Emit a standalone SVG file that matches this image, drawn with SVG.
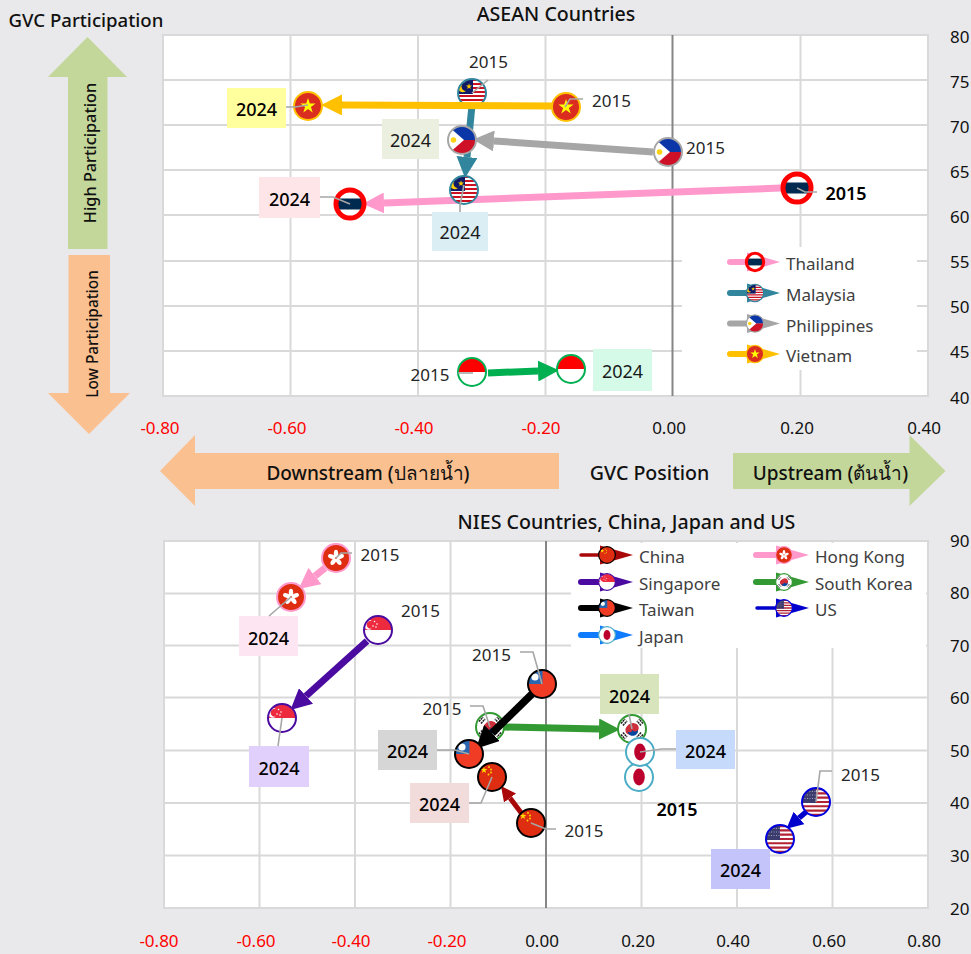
<svg xmlns="http://www.w3.org/2000/svg" width="971" height="954" viewBox="0 0 971 954">
<style>
text{font-family:"Noto Sans","Open Sans","Liberation Sans",sans-serif;font-size:17px;fill:#262626}
.t{fill:#111}
.m{text-anchor:middle}
.red{fill:#f00}
.lg{fill:#404040}
.b2{font-size:18px;font-weight:600;fill:#000}
.l4{font-size:18px;fill:#1a1a1a;text-anchor:middle}
.d4{font-size:18px;font-weight:500;fill:#000;text-anchor:middle}
.sem{font-size:19.600px;font-weight:500;fill:#111;text-anchor:middle}
.dir{font-size:19px;font-weight:500;fill:#111;text-anchor:middle}
.grid{stroke:#d9d9d9;stroke-width:2;fill:none}
.axis{stroke:#868686;stroke-width:2}
.plot{fill:#fff;stroke:#d9d9d9;stroke-width:2}
.leader{stroke:#a6a6a6;stroke-width:1.6;fill:none}
.conn{fill:none;stroke-linecap:butt}
.rl{stroke-linecap:round;fill:none}
.ring{fill:none;stroke-width:2}
</style>
<defs>
<clipPath id="c"><circle r="14"/></clipPath>
<polygon id="star" points="0,-8 1.8,-2.5 7.6,-2.5 2.9,.95 4.7,6.5 0,3.1 -4.7,6.5 -2.9,.95 -7.6,-2.5 -1.8,-2.5"/>
<marker id="a-pink" markerUnits="strokeWidth" markerWidth="3" markerHeight="3" refX="0" refY="1.5" orient="auto"><path d="M0 0L3 1.5L0 3z" fill="#ff99cc"/></marker>
<marker id="a-teal" markerUnits="strokeWidth" markerWidth="3" markerHeight="3" refX="0" refY="1.5" orient="auto"><path d="M0 0L3 1.5L0 3z" fill="#31859c"/></marker>
<marker id="a-gray" markerUnits="strokeWidth" markerWidth="3" markerHeight="3" refX="0" refY="1.5" orient="auto"><path d="M0 0L3 1.5L0 3z" fill="#a6a6a6"/></marker>
<marker id="a-amber" markerUnits="strokeWidth" markerWidth="3" markerHeight="3" refX="0" refY="1.5" orient="auto"><path d="M0 0L3 1.5L0 3z" fill="#ffc000"/></marker>
<marker id="a-green" markerUnits="strokeWidth" markerWidth="3" markerHeight="3" refX="0" refY="1.5" orient="auto"><path d="M0 0L3 1.5L0 3z" fill="#00b050"/></marker>
<marker id="a-purple" markerUnits="strokeWidth" markerWidth="3" markerHeight="3" refX="0" refY="1.5" orient="auto"><path d="M0 0L3 1.5L0 3z" fill="#4b0aa0"/></marker>
<marker id="a-black" markerUnits="strokeWidth" markerWidth="3" markerHeight="3" refX="0" refY="1.5" orient="auto"><path d="M0 0L3 1.5L0 3z" fill="#000"/></marker>
<marker id="a-kr" markerUnits="strokeWidth" markerWidth="3" markerHeight="3" refX="0" refY="1.5" orient="auto"><path d="M0 0L3 1.5L0 3z" fill="#339933"/></marker>
<marker id="a-cn" markerUnits="strokeWidth" markerWidth="3" markerHeight="3" refX="0" refY="1.5" orient="auto"><path d="M0 0L3 1.5L0 3z" fill="#a90808"/></marker>
<marker id="a-us" markerUnits="strokeWidth" markerWidth="3" markerHeight="3" refX="0" refY="1.5" orient="auto"><path d="M0 0L3 1.5L0 3z" fill="#0000cc"/></marker>

<g id="f-th"><g clip-path="url(#c)"><circle r="14" fill="#fff"/><rect x="-14" y="-5.5" width="28" height="11" fill="#002a4f"/></g><circle r="14" fill="none" stroke="#f00" stroke-width="5"/></g>
<g id="f-my"><g clip-path="url(#c)"><circle r="14" fill="#fff"/><line x1="0" y1="-14" x2="0" y2="14" stroke="#cc1122" stroke-width="28" stroke-dasharray="2 2"/><rect x="-14" y="-14" width="15" height="15" fill="#101a66"/><path d="M-6 -11a5.5 5.5 0 1 0 0 9a4.5 4.5 0 1 1 0-9z" fill="#fc0"/><use href="#star" transform="translate(-3,-6.500) scale(.4)" fill="#fc0"/></g><circle r="14" class="ring" stroke="#31859c"/></g>
<g id="f-ph"><g clip-path="url(#c)"><rect x="-14" y="-14" width="28" height="14" fill="#0b36a8"/><rect x="-14" y="0" width="28" height="14" fill="#ce1126"/><path d="M-14 -14L2 0L-14 14z" fill="#fff"/><circle cx="-8.500" r="2.800" fill="#fcd116"/></g><circle r="14" class="ring" stroke="#a6a6a6"/></g>
<g id="f-vn"><circle r="14" fill="#da2d20"/><use href="#star" fill="#ff0"/><circle r="14" class="ring" stroke="#ffc000"/></g>
<g id="f-id"><circle r="14" fill="#fff"/><path d="M-13.500 0a13.500 13.500 0 0 1 27 0z" fill="#f00"/><circle r="14" class="ring" stroke="#00b050"/></g>
<g id="f-cn"><circle r="14" fill="#de2d10"/><use href="#star" transform="translate(-8,-7) scale(.45)" fill="#fd0"/><g fill="#fd0"><circle cx="-3" cy="-10" r=".9"/><circle cx="-1" cy="-7.500" r=".9"/><circle cx="-1" cy="-4.500" r=".9"/><circle cx="-3.500" cy="-2.500" r=".9"/></g><circle r="14" class="ring" stroke="#000" stroke-width="2.400"/></g>
<g id="f-hk"><circle r="14" fill="#de2d10"/><g fill="#fff"><ellipse cy="-4.500" rx="2.200" ry="3.800"/><ellipse cy="-4.500" rx="2.200" ry="3.800" transform="rotate(72)"/><ellipse cy="-4.500" rx="2.200" ry="3.800" transform="rotate(144)"/><ellipse cy="-4.500" rx="2.200" ry="3.800" transform="rotate(216)"/><ellipse cy="-4.500" rx="2.200" ry="3.800" transform="rotate(288)"/></g><circle r="14" class="ring" stroke="#ff99cc"/></g>
<g id="f-sg"><circle r="14" fill="#fff"/><path d="M-13.500 0a13.500 13.500 0 0 1 27 0z" fill="#ee2a3f"/><path d="M-6 -9a5 5 0 1 0 0 7.500a4 4 0 1 1 0-7.500z" fill="#fff"/><g fill="#fff"><circle cx="-3.500" cy="-8.500" r=".8"/><circle cx="-1" cy="-6" r=".8"/><circle cx="-2" cy="-3" r=".8"/><circle cx="-5" cy="-4" r=".8"/></g><circle r="14" class="ring" stroke="#4b0aa0"/></g>
<g id="f-tw"><g clip-path="url(#c)"><rect x="-14" y="-14" width="28" height="28" fill="#f03c24"/><rect x="-14" y="-14" width="14.500" height="14" fill="#2b66b0"/><circle cx="-7" cy="-7" r="3.600" fill="#fff"/></g><circle r="14" class="ring" stroke="#000" stroke-width="2.400"/></g>
<g id="f-jp"><circle r="14" fill="#fff"/><ellipse rx="5.800" ry="8.500" fill="#bc002d"/><circle r="14" class="ring" stroke="#4bacc6"/></g>
<g id="f-kr"><circle r="14" fill="#fff"/><g transform="rotate(-30)"><ellipse rx="7" ry="5.500" fill="#cd2e3a"/></g><path d="M-4.500 2.500a5.300 5.300 0 0 0 10.500-2a3 3 0 0 1-5.500 .5a3 3 0 0 1-5 1.500z" fill="#0047a0"/><g stroke="#222" stroke-width="1.600" stroke-dasharray="2 .6"><path d="M-11 -5.500L-7 -10M-9 -3.500L-5 -8"/><path d="M11 -5.500L7 -10M9 -3.500L5 -8"/><path d="M-11 5.500L-7 10M-9 3.500L-5 8"/><path d="M11 5.500L7 10M9 3.500L5 8"/></g><circle r="14" class="ring" stroke="#339933"/></g>
<g id="f-us"><g clip-path="url(#c)"><circle r="14" fill="#fff"/><line x1="0" y1="-14" x2="0" y2="14" stroke="#b22234" stroke-width="28" stroke-dasharray="2.150 2.150"/><rect x="-14" y="-14" width="14" height="15" fill="#3c3b6e"/><path d="M-14 -10.500H0M-14 -7H0M-14 -3.500H0" stroke="#aab" stroke-width=".9" stroke-dasharray="1 1.500"/></g><circle r="14" class="ring" stroke="#0000e0" stroke-width="2.400"/></g>
</defs>

<rect width="971" height="954" fill="#e9e9eb"/>

<g id="titles">
<text x="8.500" y="27" class="t" style="font-size:18.600px;font-weight:500">GVC Participation</text>
<text x="556" y="21" class="sem">ASEAN Countries</text>
<text x="626.500" y="529" class="sem">NIES Countries, China, Japan and US</text>
<text x="649.500" y="480" class="sem">GVC Position</text>
</g>

<g id="direction-arrows">
<polygon points="87.500,37 127,77 107.500,77 107.500,249 68,249 68,77 48,77" fill="#c4d79b"/>
<polygon points="68.500,255 110,255 110,393 130,393 89,434 48,393 68.500,393" fill="#fac090"/>
<polygon points="160,471 195,435 195,453 559,453 559,489 195,489 195,506" fill="#fac090"/>
<polygon points="945.500,471 909.500,435 909.500,453 733,453 733,489 909.500,489 909.500,506" fill="#c4d79b"/>
<text transform="translate(96,153) rotate(-90)" class="m" style="font-size:16.300px;font-weight:500;fill:#111">High Participation</text>
<text transform="translate(98,334) rotate(-90)" class="m" style="font-size:15.400px;font-weight:500;fill:#111">Low Participation</text>
<text x="368" y="480" class="dir">Downstream (ปลายน้ำ)</text>
<text x="830.500" y="480" class="dir">Upstream (ต้นน้ำ)</text>
</g>

<g id="plot-asean">
<rect x="163" y="35" width="765" height="361" class="plot"/>
<path class="grid" d="M290.500 35V396M418 35V396M545.500 35V396M800.500 35V396M163 80H928M163 125H928M163 170H928M163 215H928M163 261H928M163 306H928M163 351H928"/>
<line x1="672.500" y1="35" x2="672.500" y2="396" class="axis"/>
<rect x="682" y="247" width="235" height="123" fill="#fff"/>
</g>
<g id="plot-nies">
<rect x="164" y="541" width="764" height="367" class="plot"/>
<path class="grid" d="M259.500 541V908M355 541V908M450.500 541V908M641.500 541V908M737 541V908M832.500 541V908M164 593.500H928M164 645.500H928M164 697.500H928M164 750.500H928M164 803H928M164 855.500H928"/>
<line x1="546" y1="541" x2="546" y2="908" class="axis"/>
<rect x="571" y="543" width="355" height="105" fill="#fff"/>
</g>

<g id="axis-labels">
<g>
<text x="160" y="434" class="m red">-0.80</text><text x="287" y="434" class="m red">-0.60</text><text x="414" y="434" class="m red">-0.40</text><text x="541" y="434" class="m red">-0.20</text><text x="669" y="434" class="m t">0.00</text><text x="797" y="434" class="m t">0.20</text><text x="924" y="434" class="m t">0.40</text>
<text x="159" y="947" class="m red">-0.80</text><text x="256" y="947" class="m red">-0.60</text><text x="351" y="947" class="m red">-0.40</text><text x="447" y="947" class="m red">-0.20</text><text x="542" y="947" class="m t">0.00</text><text x="638" y="947" class="m t">0.20</text><text x="733" y="947" class="m t">0.40</text><text x="829" y="947" class="m t">0.60</text><text x="924" y="947" class="m t">0.80</text>
</g>
<g>
<text x="950" y="43" class="t">80</text><text x="950" y="88" class="t">75</text><text x="950" y="133" class="t">70</text><text x="950" y="178" class="t">65</text><text x="950" y="223" class="t">60</text><text x="950" y="268" class="t">55</text><text x="950" y="313" class="t">50</text><text x="950" y="358" class="t">45</text><text x="950" y="404" class="t">40</text>
<text x="950" y="547" class="t">90</text><text x="950" y="599" class="t">80</text><text x="950" y="652" class="t">70</text><text x="950" y="704" class="t">60</text><text x="950" y="757" class="t">50</text><text x="950" y="809" class="t">40</text><text x="950" y="862" class="t">30</text><text x="950" y="915" class="t">20</text>
</g>
</g>

<g id="n-my-2015"><use href="#f-my" transform="translate(472,93)"/><path class="leader" d="M472 93L488 80"/><text x="488.500" y="68" class="m">2015</text></g>
<g id="n-kr-2015"><use href="#f-kr" transform="translate(490,727)"/><path class="leader" d="M470 706H483L490 727"/><text x="442" y="715" class="m">2015</text></g>

<g id="connectors">
<line x1="472" y1="105" x2="467" y2="157" class="conn" stroke="#31859c" stroke-width="7" marker-end="url(#a-teal)"/>
<line x1="553" y1="106" x2="342" y2="105" class="conn" stroke="#ffc000" stroke-width="7" marker-end="url(#a-amber)"/>
<line x1="653" y1="152" x2="494" y2="141" class="conn" stroke="#a6a6a6" stroke-width="7" marker-end="url(#a-gray)"/>
<line x1="781" y1="188" x2="384" y2="203" class="conn" stroke="#ff99cc" stroke-width="7" marker-end="url(#a-pink)"/>
<line x1="488" y1="373" x2="538" y2="371" class="conn" stroke="#00b050" stroke-width="7" marker-end="url(#a-green)"/>
<line x1="325" y1="568" x2="315" y2="576" class="conn" stroke="#ff99cc" stroke-width="7" marker-end="url(#a-pink)"/>
<line x1="367" y1="641" x2="306" y2="696" class="conn" stroke="#4b0aa0" stroke-width="7" marker-end="url(#a-purple)"/>
<line x1="504" y1="727" x2="599" y2="729" class="conn" stroke="#339933" stroke-width="7" marker-end="url(#a-kr)"/>
<line x1="532" y1="694" x2="492" y2="733" class="conn" stroke="#000" stroke-width="7.500" marker-end="url(#a-black)"/>
<line x1="522" y1="814" x2="510" y2="798" class="conn" stroke="#a90808" stroke-width="5" marker-end="url(#a-cn)"/>
<line x1="806" y1="812" x2="799" y2="818" class="conn" stroke="#0000cc" stroke-width="5.500" marker-end="url(#a-us)"/>
</g>

<g id="n-vn-2015"><use href="#f-vn" transform="translate(566,107)"/><path class="leader" d="M565 107L570 99H583"/><text x="611.500" y="107" class="m">2015</text></g>
<g id="n-vn-2024"><rect x="227" y="88" width="59" height="40" fill="#ffff9e"/><use href="#f-vn" transform="translate(308,106)"/><path class="leader" d="M286 107H295L308 105"/><text x="256.500" y="116" class="d4">2024</text></g>
<g id="n-my-2024"><rect x="432" y="212" width="56" height="39" fill="#daeef3"/><use href="#f-my" transform="translate(464,190)"/><path class="leader" d="M460 212V205L464 185"/><text x="460" y="239" class="l4">2024</text></g>
<g id="n-ph-2015"><use href="#f-ph" transform="translate(668,152)"/><text x="705.500" y="154" class="m">2015</text></g>
<g id="n-ph-2024"><rect x="382" y="119" width="57" height="40" fill="#ebefdf"/><use href="#f-ph" transform="translate(462,140)"/><text x="410.500" y="147" class="l4">2024</text></g>
<g id="n-th-2015"><use href="#f-th" transform="translate(797,188)"/><path class="leader" d="M797 188L805 192H817"/><text x="846" y="200" class="m b2">2015</text></g>
<g id="n-th-2024"><rect x="259" y="177" width="61" height="41" fill="#fee6e8"/><use href="#f-th" transform="translate(350,204)"/><path class="leader" d="M320 197H333L350 204"/><text x="289.500" y="206" class="d4">2024</text></g>
<g id="n-id-2015"><use href="#f-id" transform="translate(472,372)"/><path class="leader" d="M458 373H473"/><text x="430" y="381" class="m">2015</text></g>
<g id="n-id-2024"><rect x="593" y="349" width="59" height="42" fill="#d5fbe8"/><use href="#f-id" transform="translate(571,369)"/><text x="622.500" y="378" class="l4">2024</text></g>

<g id="legend-asean">
<g id="lg-th"><path d="M730 262H747" class="rl" stroke="#ff99cc" stroke-width="6"/><path d="M747 252.500L780 262L747 271.500z" fill="#ff99cc"/><use href="#f-th" transform="translate(755,262) scale(.62)"/><text x="786" y="270" class="lg">Thailand</text></g>
<g id="lg-my"><path d="M730 293H747" class="rl" stroke="#31859c" stroke-width="6"/><path d="M747 283.500L780 293L747 302.500z" fill="#31859c"/><use href="#f-my" transform="translate(755,293) scale(.62)"/><text x="786" y="301" class="lg">Malaysia</text></g>
<g id="lg-ph"><path d="M730 323.500H747" class="rl" stroke="#a6a6a6" stroke-width="6"/><path d="M747 314L780 323.500L747 333z" fill="#a6a6a6"/><use href="#f-ph" transform="translate(755,323.500) scale(.62)"/><text x="786" y="332" class="lg">Philippines</text></g>
<g id="lg-vn"><path d="M730 354H747" class="rl" stroke="#ffc000" stroke-width="6"/><path d="M747 344.500L780 354L747 363.500z" fill="#ffc000"/><use href="#f-vn" transform="translate(755,354) scale(.62)"/><text x="786" y="362" class="lg">Vietnam</text></g>
</g>

<g id="n-hk-2015"><use href="#f-hk" transform="translate(336,558)"/><path class="leader" d="M336 558L341 553H352"/><text x="380" y="561" class="m">2015</text></g>
<g id="n-hk-2024"><rect x="239" y="616" width="59" height="40" fill="#fde6f2"/><use href="#f-hk" transform="translate(291,597)"/><path class="leader" d="M291 597L269 616"/><text x="268.500" y="645" class="d4">2024</text></g>
<g id="n-sg-2015"><use href="#f-sg" transform="translate(378,630)"/><text x="420.500" y="617" class="m">2015</text></g>
<g id="n-sg-2024"><rect x="249" y="746" width="60" height="41" fill="#e2d0fc"/><use href="#f-sg" transform="translate(282,718)"/><path class="leader" d="M282 718L278 746"/><text x="279" y="775" class="d4">2024</text></g>
<g id="n-tw-2015"><use href="#f-tw" transform="translate(542,684)"/><path class="leader" d="M520 652H533L542 684"/><text x="491.500" y="661" class="m">2015</text></g>
<g id="n-tw-2024"><rect x="378" y="730" width="59" height="40" fill="#d6d6d6"/><use href="#f-tw" transform="translate(469,754)"/><path class="leader" d="M437 750H455L469 754"/><text x="407.500" y="758" class="d4">2024</text></g>
<g id="n-kr-2024"><rect x="600" y="674" width="59" height="40" fill="#d8e4bc"/><use href="#f-kr" transform="translate(632,729)"/><path class="leader" d="M629 714L632 729"/><text x="629.500" y="703" class="d4">2024</text></g>
<g id="n-jp-2015"><use href="#f-jp" transform="translate(639,777)"/><text x="677" y="816" class="m b2">2015</text></g>
<g id="n-jp-2024"><rect x="676" y="730" width="59" height="39" fill="#c6dbfb"/><use href="#f-jp" transform="translate(640,752)"/><path class="leader" d="M640 752L662 749H676"/><text x="705.500" y="758" class="d4">2024</text></g>
<g id="n-cn-2015"><use href="#f-cn" transform="translate(531,823)"/><path class="leader" d="M531 823L546 829H556"/><text x="584" y="837" class="m">2015</text></g>
<g id="n-cn-2024"><rect x="410" y="783" width="59" height="40" fill="#f2dcdb"/><use href="#f-cn" transform="translate(492,777)"/><path class="leader" d="M469 803H481L492 777"/><text x="439.500" y="811" class="d4">2024</text></g>
<g id="n-us-2015"><use href="#f-us" transform="translate(816,802)"/><path class="leader" d="M832 771H820L816 802"/><text x="860.500" y="781" class="m">2015</text></g>
<g id="n-us-2024"><use href="#f-us" transform="translate(780,839)"/><rect x="711" y="849" width="59" height="40" fill="#c4c4fb"/><text x="740.500" y="877" class="d4">2024</text></g>

<g id="legend-nies">
<g id="lg-cn"><path d="M581 555H600" class="rl" stroke="#a90808" stroke-width="3.500"/><path d="M600 545.500L633 555L600 564.500z" fill="#a90808"/><use href="#f-cn" transform="translate(607,555) scale(.6)"/><text x="639" y="563" class="lg">China</text></g>
<g id="lg-sg"><path d="M581 582H600" class="rl" stroke="#4b0aa0" stroke-width="6"/><path d="M600 572.500L633 582L600 591.500z" fill="#4b0aa0"/><use href="#f-sg" transform="translate(607,582) scale(.6)"/><text x="639" y="590" class="lg">Singapore</text></g>
<g id="lg-tw"><path d="M581 608H600" class="rl" stroke="#000" stroke-width="6"/><path d="M600 598.500L633 608L600 617.500z" fill="#000"/><use href="#f-tw" transform="translate(607,608) scale(.6)"/><text x="639" y="616" class="lg">Taiwan</text></g>
<g id="lg-jp"><path d="M581 635H600" class="rl" stroke="#0f7bff" stroke-width="6"/><path d="M600 625.500L633 635L600 644.500z" fill="#0f7bff"/><use href="#f-jp" transform="translate(607,635) scale(.6)"/><text x="639" y="643" class="lg">Japan</text></g>
<g id="lg-hk"><path d="M756 555H776" class="rl" stroke="#ff99cc" stroke-width="6"/><path d="M776 545.500L809 555L776 564.500z" fill="#ff99cc"/><use href="#f-hk" transform="translate(784,555) scale(.6)"/><text x="815" y="563" class="lg">Hong Kong</text></g>
<g id="lg-kr"><path d="M756 582H776" class="rl" stroke="#339933" stroke-width="6"/><path d="M776 572.500L809 582L776 591.500z" fill="#339933"/><use href="#f-kr" transform="translate(784,582) scale(.6)"/><text x="815" y="590" class="lg">South Korea</text></g>
<g id="lg-us"><path d="M757 608H776" class="rl" stroke="#0000cc" stroke-width="3.500"/><path d="M776 598.500L809 608L776 617.500z" fill="#0000cc"/><use href="#f-us" transform="translate(784,608) scale(.6)"/><text x="815" y="616" class="lg">US</text></g>
</g>
</svg>
